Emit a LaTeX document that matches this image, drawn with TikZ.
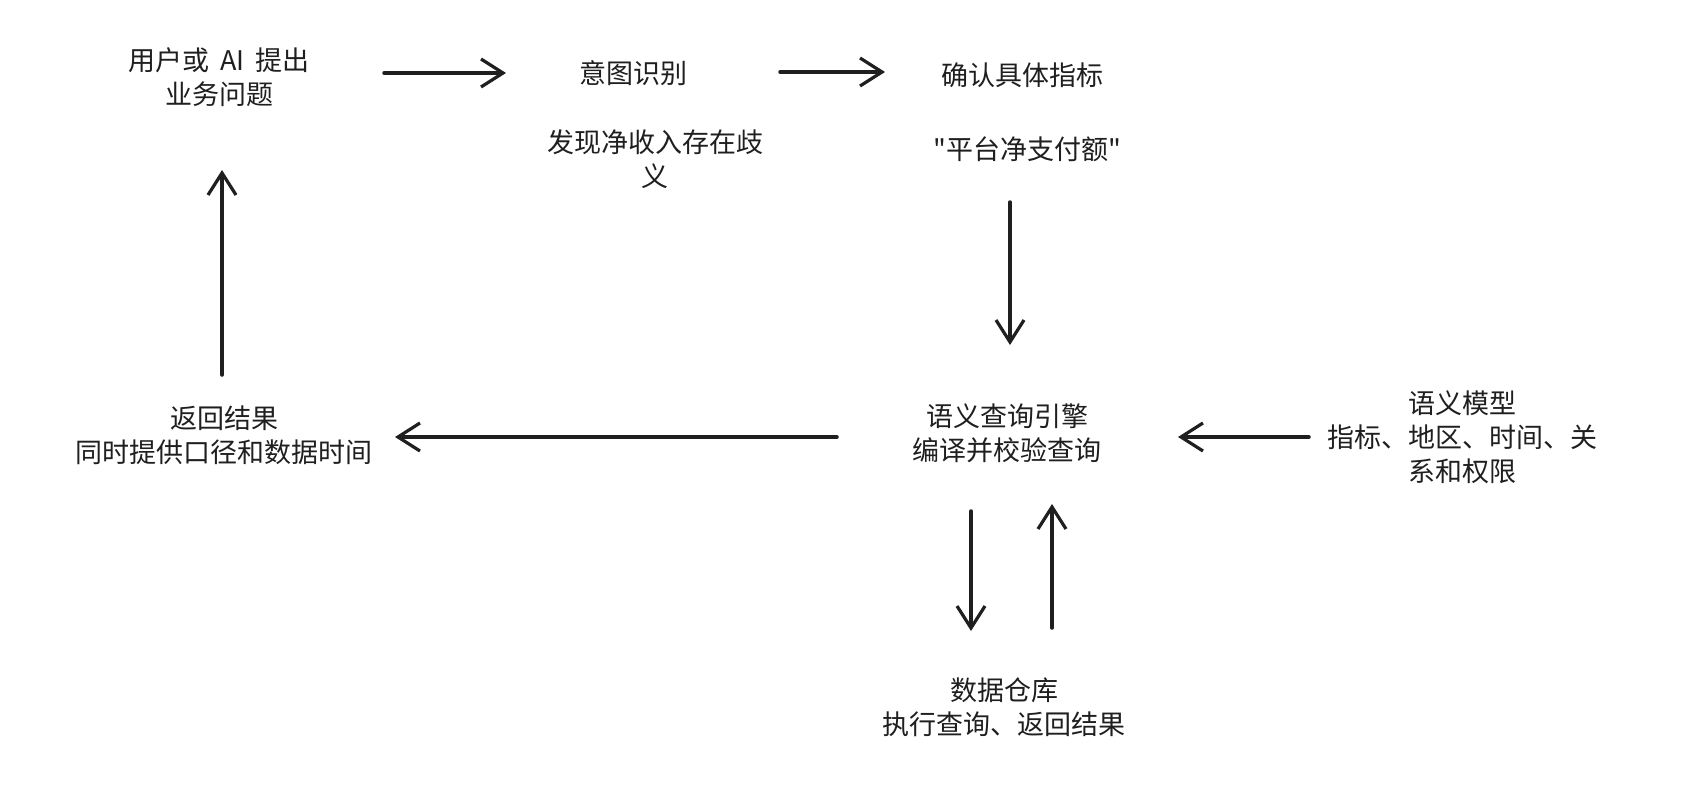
\documentclass[tikz,border=0pt]{standalone}
\usepackage{fontspec}
\newfontfamily\cjk{Noto Sans CJK SC}
\usetikzlibrary{arrows.meta,calc}
\tikzset{
  lbl/.style={align=center, inner sep=0pt, text=black!88, font=\cjk\fontsize{27}{34}\selectfont},
  arr/.style={line width=3.5pt, draw=black!88, line cap=round, -{Straight Barb[length=22pt,width=28pt,line width=3.2pt]}}
}
\begin{document}
\begin{tikzpicture}[x=1pt,y=-1pt]
\fill[white] (0,0) rectangle (1682,798);
\useasboundingbox (0,0) rectangle (1682,798);
\node[lbl] (n1) at (219,77) {用户或 \,AI\, 提出\\业务问题};
\node[lbl] (n2) at (633,73) {意图识别};
\node[lbl] (n2b) at (655,159) {发现净收入存在歧\\义};
\node[lbl] (n3) at (1022,75) {确认具体指标};
\node[lbl] (n3b) at (1027,149) {"平台净支付额"};
\node[lbl] (n4) at (1007,433) {语义查询引擎\\编译并校验查询};
\node[lbl] (n5) at (224,435) {返回结果\\同时提供口径和数据时间};
\node[lbl] (n6) at (1462,437) {语义模型\\指标、地区、时间、关\\系和权限};
\node[lbl] (n7) at (1004,707) {数据仓库\\执行查询、返回结果};
\draw[arr] ($(n1.center)+(165,-4)$) -- ($(n2.center)+(-127,0)$);
\draw[arr] ($(n2.center)+(147,-1)$) -- ($(n3.center)+(-137,-3)$);
\draw[arr] ($(n3b.center)+(-17,53)$) -- ($(n4.center)+(3,-88)$);
\draw[arr] ($(n4.center)+(-170,4)$) -- ($(n5.center)+(171,2)$);
\draw[arr] ($(n5.center)+(-2,-60)$) -- ($(n1.center)+(3,93)$);
\draw[arr] ($(n6.center)+(-153,0)$) -- ($(n4.center)+(171,4)$);
\draw[arr] ($(n4.center)+(-36,78)$) -- ($(n7.center)+(-33,-76)$);
\draw[arr] ($(n7.center)+(48,-79)$) -- ($(n4.center)+(45,71)$);
\end{tikzpicture}
\end{document}
